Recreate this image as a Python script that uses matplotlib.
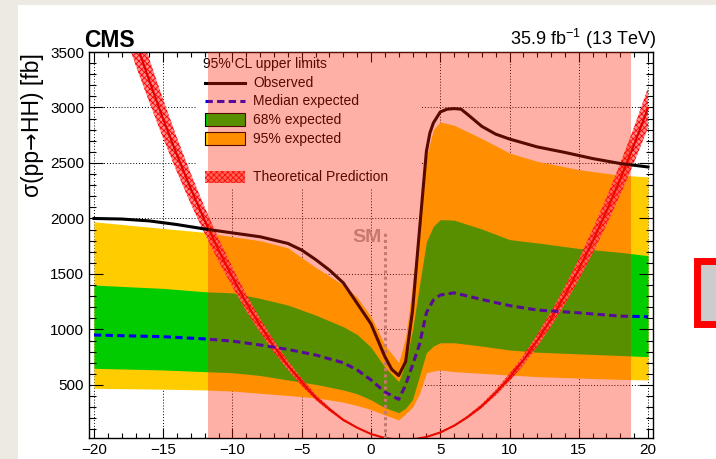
import matplotlib
matplotlib.use("Agg")
import matplotlib.pyplot as plt
from matplotlib.patches import Rectangle
from matplotlib.lines import Line2D
from matplotlib.ticker import MultipleLocator

plt.rcParams["font.family"] = ["Liberation Sans", "DejaVu Sans"]
plt.rcParams["mathtext.fontset"] = "custom"
plt.rcParams["mathtext.rm"] = "Liberation Sans"
plt.rcParams["mathtext.it"] = "Liberation Sans:italic"
plt.rcParams["mathtext.bf"] = "Liberation Sans:bold"
plt.rcParams["hatch.linewidth"] = 0.6

# expected limits (fb) vs kappa_lambda
KL = [-20, -15, -12, -10, -8, -6, -4, -2, -1, 0, 1, 2, 2.5, 3, 3.5, 4, 4.5, 5,
      6, 8, 10, 12, 15, 18, 20]
EXP_MEDIAN = [950, 935, 915, 895, 860, 820, 770, 700, 635, 545, 437, 370, 500,
              680, 865, 1150, 1265, 1310, 1330, 1270, 1215, 1175, 1150, 1120, 1115]
EXP_68_UP = [1400, 1370, 1340, 1330, 1280, 1220, 1130, 1025, 955, 840, 660, 530,
             700, 995, 1400, 1790, 1930, 1990, 1985, 1905, 1810, 1780, 1730, 1695, 1665]
EXP_68_DN = [650, 635, 620, 610, 585, 545, 505, 455, 420, 365, 295, 250, 290,
             370, 580, 790, 850, 880, 880, 850, 815, 795, 780, 765, 755]
EXP_95_UP = [1970, 1910, 1875, 1835, 1800, 1735, 1560, 1400, 1290, 1115, 860, 700,
             930, 1400, 2000, 2555, 2800, 2870, 2840, 2720, 2590, 2515, 2440, 2390, 2375]
EXP_95_DN = [470, 462, 455, 445, 425, 405, 385, 345, 315, 278, 230, 185, 240,
             300, 420, 610, 625, 635, 620, 605, 590, 575, 562, 550, 545]

# observed limit
OBS_KL = [-20, -18, -16, -14, -12, -10, -8, -6, -5, -4, -3, -2, -1, 0, 1, 1.5, 2,
          2.5, 3, 3.5, 4, 4.25, 4.5, 5, 5.5, 6, 6.5, 7, 8, 9, 10, 12, 14, 16, 18, 20]
OBS = [2000, 1995, 1978, 1945, 1905, 1870, 1835, 1775, 1715, 1630, 1535, 1420,
       1235, 1050, 755, 640, 585, 710, 1170, 1895, 2605, 2770, 2860, 2960, 2985,
       2990, 2985, 2935, 2830, 2760, 2716, 2645, 2595, 2540, 2495, 2464]

# theoretical prediction
TH_KL = [-18, -17, -16, -15, -14, -13, -12, -11, -10, -9, -8, -7, -6, -5, -4, -3,
         -2, -1, 0, 1, 2, 3, 4, 5, 6, 7, 8, 9, 10, 11, 12, 13, 14, 15, 16, 17,
         18, 19, 20]
TH = [3980, 3600, 3240, 2895, 2570, 2265, 1980, 1715, 1470, 1240, 1035, 845, 675,
      525, 390, 280, 185, 115, 58, 22, 6, 9, 31, 72, 133, 213, 311, 430, 567,
      723, 899, 1094, 1308, 1541, 1794, 2065, 2356, 2666, 2996]
TH_UNC = 0.06  # relative half-width of the band

SM_KL = 1.0
SM_LINE_TOP = 1890

X_MAJOR = [-20, -15, -10, -5, 0, 5, 10, 15, 20]
Y_MAJOR = [500, 1000, 1500, 2000, 2500, 3000, 3500]

# highlighted region drawn over the plot
HL_X0, HL_X1 = -11.77, 18.77

W, H = 716, 459
fig = plt.figure(figsize=(W / 100, H / 100), dpi=100, facecolor="#ede9e3")
fig.add_artist(Rectangle((18 / W, 0), 1 - 18 / W, (H - 5) / H, transform=fig.transFigure,
                         facecolor="white", edgecolor="none", zorder=-5))
fig.add_artist(Rectangle((696.5 / W, (H - 323.5) / H), 0.1, 63 / H, transform=fig.transFigure,
                         facecolor="#cccccc", edgecolor="#ff0000", linewidth=5, zorder=5))

ax = fig.add_axes([89 / W, (H - 438) / H, 564 / W, 386 / H])
ax.set_xlim(-20.36, 20.36)
ax.set_ylim(22, 3500)

for x in X_MAJOR:
    ax.axvline(x, color="black", lw=0.7, ls=(0, (1, 2)), zorder=0.6)
for y in Y_MAJOR:
    ax.axhline(y, color="black", lw=0.7, ls=(0, (1, 2)), zorder=0.6)

# legend background hides the grid
ax.add_patch(Rectangle((0.191, 0.648), 0.396, 0.352, transform=ax.transAxes,
                       facecolor="white", edgecolor="none", zorder=0.8))

ax.fill_between(KL, EXP_95_DN, EXP_95_UP, color="#ffcc00", lw=0, zorder=1)
ax.fill_between(KL, EXP_68_DN, EXP_68_UP, color="#00cc00", lw=0, zorder=1.1)

th_lo = [v * (1 - TH_UNC) for v in TH]
th_hi = [v * (1 + TH_UNC) for v in TH]
ax.fill_between(TH_KL, th_lo, th_hi, facecolor="#ff8a8a", edgecolor="#ff0000",
                hatch="xxxxxx", lw=0, zorder=2)
ax.plot(TH_KL, TH, color="#dd0000", lw=1.5, zorder=2.1)

ax.plot([SM_KL, SM_KL], [22, SM_LINE_TOP], color="#aaaaaa", lw=2.2,
        ls=(0, (1, 1)), zorder=2.6)
ax.text(SM_KL - 0.2, 1788, "SM", ha="right", va="baseline", fontsize=14,
        fontweight="bold", color="#aaaaaa", zorder=2.6)

ax.plot(KL, EXP_MEDIAN, color="#0000ee", lw=2.2, ls=(0, (2.4, 1.4)), zorder=3)
ax.plot(OBS_KL, OBS, color="black", lw=2.2, zorder=3.2)

# legend
lx0, lx1, tx = 0.2057, 0.2766, 0.2908
ax.text(0.2021, 0.969, "95% CL upper limits", transform=ax.transAxes, fontsize=10,
        ha="left", va="center", zorder=4)
ax.add_line(Line2D([lx0, lx1], [0.920, 0.920], transform=ax.transAxes, color="black",
                   lw=2.2, zorder=4))
ax.add_line(Line2D([lx0, lx1], [0.873, 0.873], transform=ax.transAxes, color="#0000ee",
                   lw=2.2, ls=(0, (2.4, 1.4)), zorder=4))
ax.add_patch(Rectangle((lx0, 0.824 - 0.0168), lx1 - lx0, 0.0336, transform=ax.transAxes,
                       facecolor="#00cc00", edgecolor="black", lw=0.8, zorder=4))
ax.add_patch(Rectangle((lx0, 0.775 - 0.0168), lx1 - lx0, 0.0336, transform=ax.transAxes,
                       facecolor="#ffcc00", edgecolor="black", lw=0.8, zorder=4))
ax.add_patch(Rectangle((lx0, 0.676 - 0.0155), lx1 - lx0, 0.031, transform=ax.transAxes,
                       facecolor="#ff8a8a", edgecolor="#ff0000", hatch="xxxxxx", lw=0,
                       zorder=4))
for yy, label in [(0.920, "Observed"), (0.873, "Median expected"), (0.824, "68% expected"),
                  (0.775, "95% expected"), (0.676, "Theoretical Prediction")]:
    ax.text(tx, yy, label, transform=ax.transAxes, fontsize=10, ha="left", va="center",
            zorder=4)

# semi-transparent highlight on top
ax.axvspan(HL_X0, HL_X1, color=(1.0, 29 / 255, 0.0), alpha=0.35, lw=0, zorder=50)

ax.xaxis.set_major_locator(MultipleLocator(5))
ax.xaxis.set_minor_locator(MultipleLocator(1))
ax.yaxis.set_major_locator(MultipleLocator(500))
ax.yaxis.set_minor_locator(MultipleLocator(100))
ax.tick_params(which="both", direction="in", top=True, right=True, width=0.8,
               labelsize=11, pad=3.5)
ax.tick_params(axis="x", which="major", length=7)
ax.tick_params(axis="x", which="minor", length=3.6)
ax.tick_params(axis="y", which="major", length=10)
ax.tick_params(axis="y", which="minor", length=5)
for s in ax.spines.values():
    s.set_linewidth(1.0)

# y title built from pieces so the arrow can come from DejaVu Sans
pieces = [("σ(pp", "Liberation Sans", 16.5), ("\u2192", "DejaVu Sans", 15),
          ("HH) [fb]", "Liberation Sans", 16.5)]
renderer = fig.canvas.get_renderer()
base_x, top_y = 38.5, H - 53
texts = []
for s, fam, fs in pieces:
    t = fig.text(base_x / W, 0, s, rotation=90, rotation_mode="anchor", ha="left",
                 va="baseline", fontsize=fs, family=fam)
    texts.append(t)
lengths = [t.get_window_extent(renderer=renderer).height for t in texts]
y0 = top_y - sum(lengths)
for t, ln in zip(texts, lengths):
    t.set_position((base_x / W, y0 / H))
    y0 += ln

ax.text(-0.0089, 1.013, "CMS", transform=ax.transAxes, ha="left", va="baseline",
        fontsize=16.5, fontweight="bold")
ax.text(1.0053, 1.018, "35.9 fb$^{-1}$ (13 TeV)", transform=ax.transAxes, ha="right",
        va="baseline", fontsize=13)

fig.savefig("out.png", dpi=100, facecolor=fig.get_facecolor())
